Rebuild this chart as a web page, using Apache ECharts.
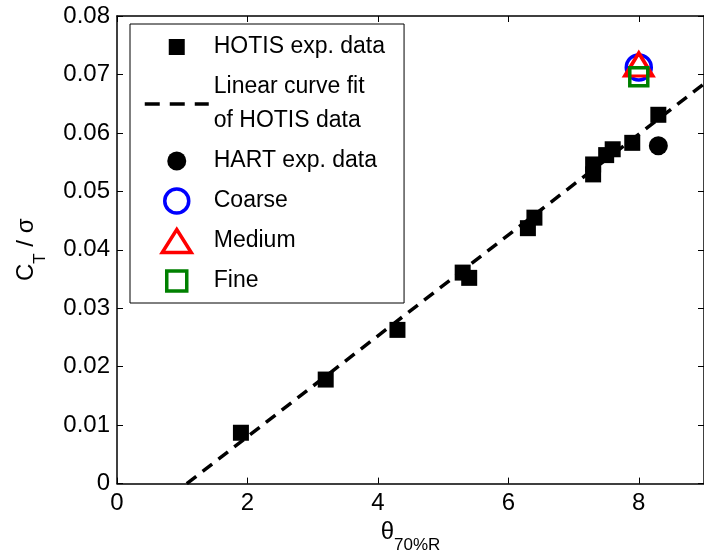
<!DOCTYPE html>
<html>
<head>
<meta charset="utf-8">
<script src="https://cdn.jsdelivr.net/npm/echarts@6/dist/echarts.min.js"></script>
<style>
html, body { margin: 0; padding: 0; background: #fff; }
#main { width: 704px; height: 559px; }
</style>
</head>
<body>
<div id="main"></div>
<script>
// HOTIS experimental points
var hotisX = [1.9, 3.2, 4.3, 5.3, 5.4, 6.3, 6.4, 7.3, 7.3, 7.5, 7.6, 7.9, 8.3];
var hotisY = [0.0087, 0.0178, 0.0263, 0.0361, 0.0352, 0.0437, 0.0455, 0.0529, 0.0546, 0.0562, 0.0572, 0.0583, 0.0631];
// linear fit end points
var fitX = [1.07, 9];
var fitY = [0, 0.0684];
// HART point and the three grids
var hartX = [8.3];
var hartY = [0.0578];
var coarseX = [8.0];
var coarseY = [0.0712];
var mediumX = [8.0];
var mediumY = [0.0717];
var fineX = [8.0];
var fineY = [0.0696];

var FONT = 'Liberation Sans, Arial, Helvetica, sans-serif';

function pairs(xs, ys) {
    var out = [];
    for (var i = 0; i < xs.length; i++) out.push([xs[i], ys[i]]);
    return out;
}

// legend icons (the M moves pad the box so the shapes keep their own size)
var ICON_SQ = 'path://M0,0M24,24M4,4H20V20H4Z';
var ICON_DOT = 'path://M0,0M24,24M2.5,12A9.5,9.5 0 1,1 21.5,12A9.5,9.5 0 1,1 2.5,12Z';
var ICON_TRI = 'path://M0,0M30,24M15,0.5L29.5,23.5H0.5Z';
var ICON_BOX = 'path://M0,0M24,24M2,2H22V22H2Z';

function hollow(c) {
    return { color: 'rgba(255,255,255,0)', borderColor: c, borderWidth: 3.5, opacity: 1 };
}

var myChart = echarts.init(document.getElementById('main'));

var option = {
    animation: false,
    backgroundColor: '#fff',
    grid: { left: 117, right: 0, top: 16, bottom: 71 },
    legend: {
        orient: 'vertical',
        left: 130,
        top: 24,
        padding: [6, 19, 5, 13],
        itemGap: 6,
        itemWidth: 64,
        itemHeight: 24,
        symbolKeepAspect: true,
        backgroundColor: '#fff',
        borderColor: '#000',
        borderWidth: 1,
        borderRadius: 0,
        selectedMode: false,
        textStyle: { fontFamily: FONT, fontSize: 23, color: '#000', lineHeight: 34 },
        lineStyle: { width: 3.5, type: [15, 10] },
        data: [
            { name: 'HOTIS exp. data', icon: ICON_SQ },
            { name: 'Linear curve fit\nof HOTIS data', itemStyle: { color: 'rgba(0,0,0,0)', borderColor: 'rgba(0,0,0,0)', borderWidth: 0 } },
            { name: 'HART exp. data', icon: ICON_DOT },
            { name: 'Coarse', icon: 'circle', itemStyle: hollow('#0000ff') },
            { name: 'Medium', icon: ICON_TRI, itemStyle: hollow('#ff0000') },
            { name: 'Fine', icon: ICON_BOX, itemStyle: hollow('#008000') }
        ]
    },
    xAxis: [{
        type: 'value',
        min: 0, max: 9, interval: 2,
        name: '{t|θ}{s|70%R}',
        nameLocation: 'middle',
        nameGap: 20,
        nameTextStyle: {
            fontFamily: FONT, color: '#000',
            rich: {
                t: { fontFamily: FONT, fontSize: 24, color: '#000' },
                s: { fontFamily: FONT, fontSize: 17, color: '#000', padding: [26, 0, 0, 0] }
            }
        },
        axisLine: { onZero: false, lineStyle: { color: '#000', width: 1.5 } },
        axisTick: { inside: true, length: 6, lineStyle: { color: '#000' } },
        axisLabel: { fontFamily: FONT, fontSize: 24, color: '#000', margin: 8, showMaxLabel: false },
        splitLine: { show: false }
    }, {
        type: 'value', position: 'top',
        min: 0, max: 9, interval: 2,
        axisLine: { onZero: false, lineStyle: { color: '#000', width: 1.5 } },
        axisTick: { inside: true, length: 6, lineStyle: { color: '#000' } },
        axisLabel: { show: false },
        splitLine: { show: false }
    }],
    yAxis: [{
        type: 'value',
        min: 0, max: 0.08, interval: 0.01,
        name: '{c|C}{s|T}{c| / σ}',
        nameLocation: 'middle',
        nameGap: 68,
        nameTextStyle: {
            fontFamily: FONT, color: '#000',
            rich: {
                c: { fontFamily: FONT, fontSize: 24, color: '#000' },
                s: { fontFamily: FONT, fontSize: 17, color: '#000', padding: [28, 0, 0, 0] }
            }
        },
        axisLine: { onZero: false, lineStyle: { color: '#000', width: 1.5 } },
        axisTick: { inside: true, length: 6, lineStyle: { color: '#000' } },
        axisLabel: {
            fontFamily: FONT, fontSize: 24, color: '#000', margin: 7,
            formatter: function (v) { return v === 0 ? '0' : v.toFixed(2); }
        },
        splitLine: { show: false }
    }, {
        type: 'value', position: 'right',
        min: 0, max: 0.08, interval: 0.01,
        axisLine: { onZero: false, lineStyle: { color: '#000', width: 1.5 } },
        axisTick: { inside: true, length: 6, lineStyle: { color: '#000' } },
        axisLabel: { show: false },
        splitLine: { show: false }
    }],
    series: [{
        name: 'HOTIS exp. data',
        type: 'scatter',
        symbol: 'rect',
        symbolSize: 16,
        itemStyle: { color: '#000', opacity: 1 },
        data: pairs(hotisX, hotisY)
    }, {
        name: 'Linear curve fit\nof HOTIS data',
        type: 'line',
        symbol: 'none',
        showSymbol: false,
        lineStyle: { color: '#000', width: 3.5, type: [12, 8] },
        itemStyle: { color: '#000' },
        data: pairs(fitX, fitY)
    }, {
        name: 'HART exp. data',
        type: 'scatter',
        symbol: 'circle',
        symbolSize: 19,
        itemStyle: { color: '#000', opacity: 1 },
        data: pairs(hartX, hartY)
    }, {
        name: 'Coarse',
        type: 'scatter',
        symbol: 'circle',
        symbolSize: 25,
        itemStyle: hollow('#0000ff'),
        data: pairs(coarseX, coarseY)
    }, {
        name: 'Medium',
        type: 'scatter',
        symbol: 'triangle',
        symbolSize: [28, 23],
        itemStyle: hollow('#ff0000'),
        data: pairs(mediumX, mediumY)
    }, {
        name: 'Fine',
        type: 'scatter',
        symbol: 'rect',
        symbolSize: 18,
        itemStyle: hollow('#008000'),
        data: pairs(fineX, fineY)
    }]
};

myChart.setOption(option);
</script>
</body>
</html>
